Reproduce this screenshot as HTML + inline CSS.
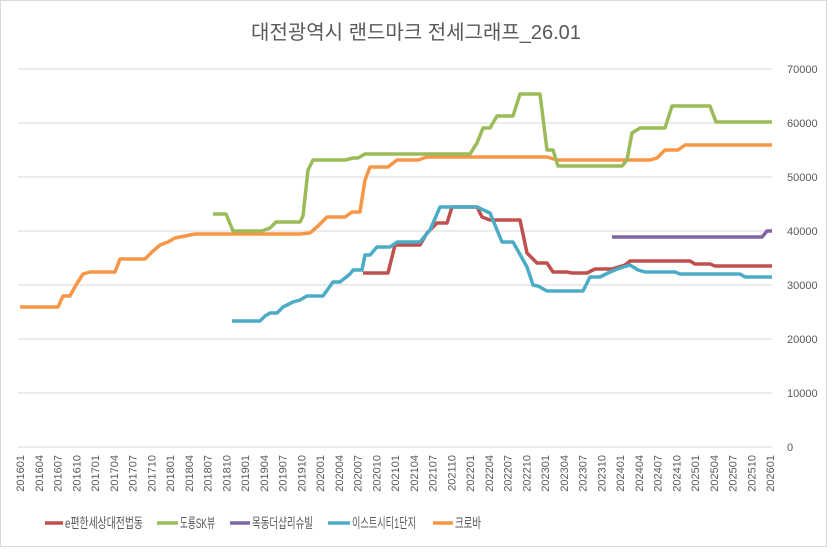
<!DOCTYPE html>
<html><head><meta charset="utf-8"><style>
body{margin:0;background:#fff;}
svg{font-family:"Liberation Sans","Noto Sans CJK KR",sans-serif;}
</style></head><body>
<svg width="833" height="552" viewBox="0 0 833 552" xmlns="http://www.w3.org/2000/svg">
<rect x="0.5" y="0.5" width="826" height="546" fill="#fff" stroke="#d9d9d9"/>
<text x="416" y="39" text-anchor="middle" font-size="20" fill="#595959">대전광역시 랜드마크 전세그래프_26.01</text>
<g stroke="#d9d9d9" stroke-width="1">
<line x1="18" x2="772" y1="69" y2="69"/><line x1="18" x2="772" y1="123" y2="123"/><line x1="18" x2="772" y1="177" y2="177"/><line x1="18" x2="772" y1="231" y2="231"/><line x1="18" x2="772" y1="285" y2="285"/><line x1="18" x2="772" y1="339" y2="339"/><line x1="18" x2="772" y1="393" y2="393"/><line x1="18" x2="772" y1="447" y2="447"/>
</g>
<g font-size="11" fill="#595959">
<text x="787" y="73">70000</text><text x="787" y="127">60000</text><text x="787" y="181">50000</text><text x="787" y="235">40000</text><text x="787" y="289">30000</text><text x="787" y="343">20000</text><text x="787" y="397">10000</text><text x="787" y="451">0</text>
</g>
<g font-size="11" fill="#595959" text-anchor="end">
<text transform="translate(24,455) rotate(-90)">201601</text>
<text transform="translate(42.75,455) rotate(-90)">201604</text>
<text transform="translate(61.5,455) rotate(-90)">201607</text>
<text transform="translate(80.25,455) rotate(-90)">201610</text>
<text transform="translate(99,455) rotate(-90)">201701</text>
<text transform="translate(117.75,455) rotate(-90)">201704</text>
<text transform="translate(136.5,455) rotate(-90)">201707</text>
<text transform="translate(155.25,455) rotate(-90)">201710</text>
<text transform="translate(174,455) rotate(-90)">201801</text>
<text transform="translate(192.75,455) rotate(-90)">201804</text>
<text transform="translate(211.5,455) rotate(-90)">201807</text>
<text transform="translate(230.25,455) rotate(-90)">201810</text>
<text transform="translate(249,455) rotate(-90)">201901</text>
<text transform="translate(267.75,455) rotate(-90)">201904</text>
<text transform="translate(286.5,455) rotate(-90)">201907</text>
<text transform="translate(305.25,455) rotate(-90)">201910</text>
<text transform="translate(324,455) rotate(-90)">202001</text>
<text transform="translate(342.75,455) rotate(-90)">202004</text>
<text transform="translate(361.5,455) rotate(-90)">202007</text>
<text transform="translate(380.25,455) rotate(-90)">202010</text>
<text transform="translate(399,455) rotate(-90)">202101</text>
<text transform="translate(417.75,455) rotate(-90)">202104</text>
<text transform="translate(436.5,455) rotate(-90)">202107</text>
<text transform="translate(455.25,455) rotate(-90)">202110</text>
<text transform="translate(474,455) rotate(-90)">202201</text>
<text transform="translate(492.75,455) rotate(-90)">202204</text>
<text transform="translate(511.5,455) rotate(-90)">202207</text>
<text transform="translate(530.25,455) rotate(-90)">202210</text>
<text transform="translate(549,455) rotate(-90)">202301</text>
<text transform="translate(567.75,455) rotate(-90)">202304</text>
<text transform="translate(586.5,455) rotate(-90)">202307</text>
<text transform="translate(605.25,455) rotate(-90)">202310</text>
<text transform="translate(624,455) rotate(-90)">202401</text>
<text transform="translate(642.75,455) rotate(-90)">202404</text>
<text transform="translate(661.5,455) rotate(-90)">202407</text>
<text transform="translate(680.25,455) rotate(-90)">202410</text>
<text transform="translate(699,455) rotate(-90)">202501</text>
<text transform="translate(717.75,455) rotate(-90)">202504</text>
<text transform="translate(736.5,455) rotate(-90)">202507</text>
<text transform="translate(755.25,455) rotate(-90)">202510</text>
<text transform="translate(774,455) rotate(-90)">202601</text>
</g>
<g fill="none" stroke-width="3.5" stroke-linejoin="round">
<polyline stroke="#f79646" points="20,307 58,307 63,296 70,296 76,285 83,274 90,272 115,272 120,259 145,259 152,252 160,245 168,242 175,238 185,236 195,234 300,234 310,233 318,226 327,217 345,217 352,212 360,212 365,180 370,167 388,167 397,160 418,160 427,157 547,157 557,160 650,160 657,158 665,150 678,150 685,145 772,145"/>
<polyline stroke="#9bbb59" points="213,214 226,214 233,231 262,231 270,228 276,222 300,222 303,216 308,170 313,160 345,160 353,158 358,158 365,154 470,154 477,143 483,128 490,128 497,116 513,116 520,94 540,94 547,150 553,150 558,166 622,166 627,160 632,133 640,128 665,128 672,106 710,106 716,122 772,122"/>
<polyline stroke="#8064a2" points="612,237 762,237 767,231 772,231"/>
<polyline stroke="#c0504d" points="363,273 388,273 395,245 420,245 427,233 437,223 447,223 452,207 477,207 482,217 490,220 520,220 527,253 537,263 547,263 553,272 567,272 572,273 587,273 595,269 612,269 625,265 630,261 690,261 695,264 710,264 715,266 772,266"/>
<polyline stroke="#4bacc6" points="232,321 260,321 265,316 270,313 277,313 283,307 293,302 300,300 307,296 323,296 333,282 340,282 350,274 353,270 362,270 365,255 370,255 377,247 390,247 397,242 420,242 430,230 440,207 477,207 490,213 502,242 513,242 527,267 533,285 538,286 547,291 583,291 590,277 600,277 610,272 620,268 630,265 638,270 645,272 675,272 680,274 740,274 745,277 772,277"/>
</g>
<g font-size="14" fill="#595959">
<line x1="45" x2="63" y1="523" y2="523" stroke="#c0504d" stroke-width="3.5"/><text x="65" y="528" textLength="78" lengthAdjust="spacingAndGlyphs">e편한세상대전법동</text>
<line x1="157" x2="178" y1="523" y2="523" stroke="#9bbb59" stroke-width="3.5"/><text x="180" y="528" textLength="35" lengthAdjust="spacingAndGlyphs">도룡SK뷰</text>
<line x1="230" x2="250" y1="523" y2="523" stroke="#8064a2" stroke-width="3.5"/><text x="252" y="528" textLength="61" lengthAdjust="spacingAndGlyphs">목동더샵리슈빌</text>
<line x1="328" x2="350" y1="523" y2="523" stroke="#4bacc6" stroke-width="3.5"/><text x="352" y="528" textLength="64" lengthAdjust="spacingAndGlyphs">이스트시티1단지</text>
<line x1="433" x2="453" y1="523" y2="523" stroke="#f79646" stroke-width="3.5"/><text x="455" y="528" textLength="26" lengthAdjust="spacingAndGlyphs">크로바</text>
</g>
</svg>
</body></html>
